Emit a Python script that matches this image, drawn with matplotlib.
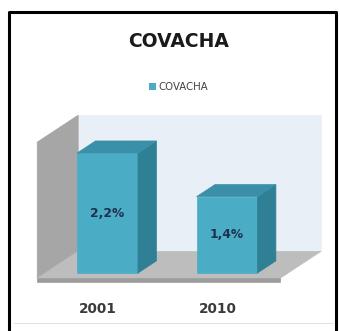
import matplotlib
matplotlib.use("Agg")
import matplotlib.pyplot as plt
from matplotlib.patches import Polygon, Patch
from matplotlib.lines import Line2D

categories = ["2001", "2010"]
values = [2.2, 1.4]
value_labels = ["2,2%", "1,4%"]
series_name = "COVACHA"
title = "COVACHA"

# oblique 3D projection: depth d moves a point right and up
DX, DY = 0.343, 0.495
VMAX = 2.5
FLOOR_D = (-0.2, 0.8)
BAR_D = (0.0, 0.45)
BAR_W = 0.51
X_LEFT, X_RIGHT = -0.52, 1.512

FRONT = "#4BACC6"
SIDE = "#2F7F95"
TOP = "#3A90A8"
WALL = "#E9EFF6"
SIDE_WALL = "#A6A6A6"
FLOOR = "#BDBDBD"

plt.rcParams["font.family"] = "DejaVu Sans"


def proj(x, v, d):
    return (x + d * DX, v + d * DY)


def face(ax, pts, color, z):
    ax.add_patch(Polygon([proj(*p) for p in pts], closed=True,
                         facecolor=color, edgecolor=color, lw=0.5, zorder=z))


fig = plt.figure(figsize=(3.4, 3.31), dpi=100)
ax = fig.add_axes([0, 0, 1, 1])
ax.set_xlim(-0.9, 1.946)
ax.set_ylim(-1.064, 5.009)
ax.axis("off")

d0, d1 = FLOOR_D
# back wall
face(ax, [(X_LEFT, 0, d1), (X_RIGHT, 0, d1), (X_RIGHT, VMAX, d1),
          (X_LEFT, VMAX, d1)], WALL, 1)
# left side wall
face(ax, [(X_LEFT, 0, d0), (X_LEFT, 0, d1), (X_LEFT, VMAX, d1),
          (X_LEFT, VMAX, d0)], SIDE_WALL, 2)
# floor with a thin front edge
face(ax, [(X_LEFT, 0, d0), (X_RIGHT, 0, d0), (X_RIGHT, 0, d1),
          (X_LEFT, 0, d1)], FLOOR, 3)
face(ax, [(X_LEFT, -0.06, d0), (X_RIGHT, -0.06, d0), (X_RIGHT, 0, d0),
          (X_LEFT, 0, d0)], "#9C9C9C", 3)

b0, b1 = BAR_D
for i, (v, lab) in enumerate(zip(values, value_labels)):
    xl, xr = i - BAR_W / 2, i + BAR_W / 2
    z = 5 + i
    face(ax, [(xl, 0, b0), (xr, 0, b0), (xr, v, b0), (xl, v, b0)], FRONT, z)
    face(ax, [(xr, 0, b0), (xr, 0, b1), (xr, v, b1), (xr, v, b0)], SIDE, z)
    face(ax, [(xl, v, b0), (xr, v, b0), (xr, v, b1), (xl, v, b1)], TOP, z)
    ax.text(i, v / 2, lab, ha="center", va="center",
            fontsize=8.8, fontweight="bold", color="#1F3050", zorder=10)

for i, c in enumerate(categories):
    ax.text(i - 0.08, -0.66, c, ha="center", va="center", fontsize=9.8,
            fontweight="bold", color="#3A3A3A")

fig.text(0.524, 0.875, title, ha="center", va="center", fontsize=13.5,
         fontweight="bold", color="#1A1A1A")

ax.legend(handles=[Patch(facecolor=FRONT, label=series_name)],
          loc="center", bbox_to_anchor=(0.525, 0.736),
          bbox_transform=fig.transFigure, frameon=False,
          handlelength=0.7, handleheight=0.7, handletextpad=0.3,
          prop={"size": 7.3}, labelcolor="#404040")

# outer frame, open at the bottom
W, H = 340, 331
frame_x = [8.5 / W, 8.5 / W, 335.5 / W, 335.5 / W]
frame_y = [0, 1 - 12 / H, 1 - 12 / H, 0]
fig.add_artist(Line2D(frame_x, frame_y, color="black", lw=2.2,
                      transform=fig.transFigure))
fig.add_artist(Line2D([14 / W, 333 / W], [1 - 323 / H, 1 - 323 / H],
                      color="#E4E4E4", lw=0.8, transform=fig.transFigure))

fig.savefig("out.png", dpi=100)
